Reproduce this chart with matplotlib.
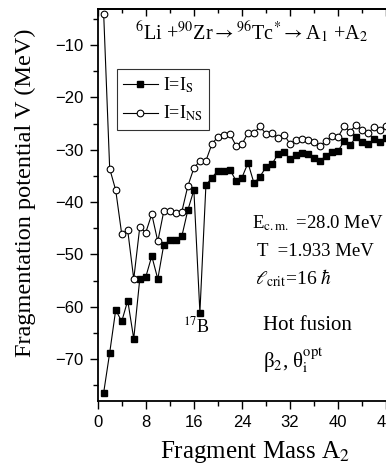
import matplotlib
matplotlib.use("Agg")
import matplotlib.pyplot as plt
from matplotlib.ticker import MultipleLocator

plt.rcParams['font.family'] = ['Liberation Serif', 'DejaVu Serif']
plt.rcParams['mathtext.fontset'] = 'stix'

# fragment mass A2
a2 = list(range(1, 49))

# I = I_S (filled squares)
v_s = [-76.4, -68.8, -60.6, -62.8, -58.8, -66.1, -54.7, -54.3, -50.3, -54.7,
       -48.1, -47.3, -47.3, -46.5, -41.5, -37.7, -61.1, -36.8, -35.3, -34.0,
       -34.0, -33.8, -35.9, -35.3, -32.5, -36.4, -35.1, -33.3, -32.7, -30.8,
       -30.5, -31.7, -31.0, -30.6, -30.8, -31.5, -32.1, -31.1, -30.5, -30.2,
       -28.3, -29.0, -27.6, -28.5, -28.9, -28.0, -28.5, -27.8]

# I = I_NS (open circles)
v_ns = [-4.0, -33.6, -37.7, -46.1, -45.4, -54.7, -44.8, -45.8, -42.3, -47.5,
        -41.7, -41.7, -42.0, -41.8, -36.9, -33.5, -32.1, -32.1, -28.9, -27.5,
        -27.1, -27.0, -29.2, -28.9, -26.8, -26.8, -25.5, -27.0, -26.8, -27.7,
        -27.1, -28.9, -28.1, -28.0, -28.1, -28.6, -29.2, -28.3, -27.3, -27.5,
        -25.5, -26.5, -25.2, -26.3, -26.7, -25.7, -26.3, -25.4]

xticks = [0, 8, 16, 24, 32, 40, 48]
yticks = [-10, -20, -30, -40, -50, -60, -70]

fig = plt.figure(figsize=(3.86, 4.71), dpi=100)
ax = fig.add_axes([0.253, 0.1486, 0.779, 0.8333])

ax.plot(a2, v_s, color='black', lw=0.8, marker='s', ms=4.8,
        mfc='black', mec='black', label=r'I=I$_\mathrm{S}$')
ax.plot(a2, v_ns, color='black', lw=0.8, marker='o', ms=4.8,
        mfc='white', mec='black', mew=0.8, label=r'I=I$_\mathrm{NS}$')

ax.set_xlim(0, 50)
ax.set_ylim(-78, -3)
ax.set_xticks(xticks)
ax.set_yticks(yticks)
ax.xaxis.set_minor_locator(MultipleLocator(4))
ax.yaxis.set_minor_locator(MultipleLocator(5))
ax.tick_params(which='major', direction='out', length=6, width=1.0, pad=4)
ax.tick_params(which='minor', direction='out', length=3.5, width=1.0)
for lab in ax.get_xticklabels() + ax.get_yticklabels():
    lab.set_fontfamily('Liberation Sans')
    lab.set_fontsize(12)
for sp in ax.spines.values():
    sp.set_linewidth(1.3)

top = ax.secondary_xaxis('top')
top.set_xticks(xticks)
top.xaxis.set_minor_locator(MultipleLocator(4))
top.tick_params(which='major', direction='in', length=5, width=1.0, labeltop=False)
top.tick_params(which='minor', direction='in', length=3, width=1.0)
top.spines['top'].set_linewidth(1.3)

leg = ax.legend(loc='upper left', bbox_to_anchor=(0.303, 0.853),
                bbox_transform=fig.transFigure, fontsize=13, frameon=True,
                fancybox=False, edgecolor='black', handlelength=1.9,
                borderpad=0.35, labelspacing=0.5, handletextpad=0.3,
                borderaxespad=0)
leg.get_frame().set_linewidth(0.8)

fig.text(0.065, 0.59, 'Fragmentation potential V (MeV)', rotation=90,
         ha='center', va='center', fontsize=17.5)
fig.text(0.66, 0.04, r'Fragment Mass A$_2$', ha='center', va='center', fontsize=18)

fig.text(0.35, 0.932,
         r'$^{6}$Li +$^{90}$Zr$\rightarrow$$^{96}$Tc$^{*}$$\rightarrow$A$_1$ +A$_2$',
         ha='left', va='center', fontsize=14.5)

fig.text(0.652, 0.526, r'E$_\mathrm{c.m.}$ =28.0 MeV', ha='left', va='center', fontsize=13.5)
fig.text(0.665, 0.465, 'T  =1.933 MeV', ha='left', va='center', fontsize=13.5)
fig.text(0.660, 0.41, r'$\ell_\mathrm{crit}$=16 $\hbar$', ha='left', va='center', fontsize=14)
fig.text(0.682, 0.308, 'Hot fusion', ha='left', va='center', fontsize=15)
fig.text(0.682, 0.236, r'β$_2$, θ$_\mathrm{i}^\mathrm{opt}$', ha='left', va='center', fontsize=15)
fig.text(0.51, 0.306, r'$^{17}$B', ha='center', va='center', fontsize=13)

fig.savefig('out.png', dpi=100)
